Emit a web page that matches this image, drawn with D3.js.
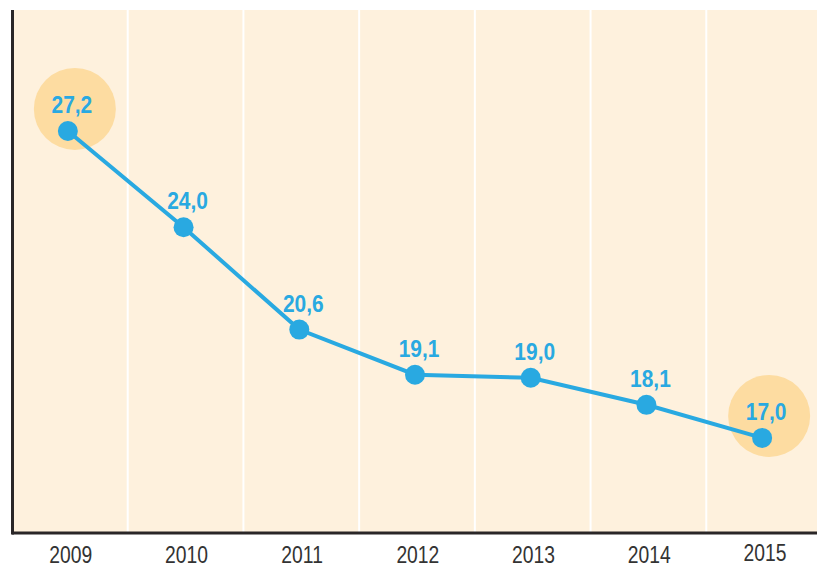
<!DOCTYPE html>
<html><head><meta charset="utf-8">
<script src="https://cdn.jsdelivr.net/npm/d3@7"></script>
<style>html,body{margin:0;padding:0;background:#fff;}svg{display:block;}</style>
</head><body>
<svg id="c" width="817" height="566"></svg>
<script>
const years = ["2009","2010","2011","2012","2013","2014","2015"];
const values = [27.2, 24.0, 20.6, 19.1, 19.0, 18.1, 17.0];
const labels = ["27,2","24,0","20,6","19,1","19,0","18,1","17,0"];
const highlighted = ["2009","2015"];

(function(){
const svg = d3.select("#c");
const pL = 12, pR = 822, pT = 10, pB = 533;
const x = d3.scaleBand().domain(years).range([pL, pR]).padding(0);
const y = d3.scaleLinear().domain([13.84, 31.22]).range([pB, pT]);
const cx = d => x(d) + x.bandwidth()/2 - 2;

svg.append("rect").attr("x", pL).attr("y", pT).attr("width", 817 - pL).attr("height", pB - pT).attr("fill", "#fef1dd");

svg.append("g").selectAll("line").data(years.slice(1)).join("line")
  .attr("x1", d => x(d)).attr("x2", d => x(d))
  .attr("y1", pT).attr("y2", pB)
  .attr("stroke", "#ffffff").attr("stroke-width", 2);

const data = years.map((yr, i) => ({yr, v: values[i], lab: labels[i]}));
svg.append("g").selectAll("circle").data(data.filter(d => highlighted.includes(d.yr))).join("circle")
  .attr("cx", d => cx(d.yr) + 7).attr("cy", d => y(d.v) - 22)
  .attr("r", 41).attr("fill", "#fddca1");

const xAxis = d3.axisBottom(x).tickSize(0).tickPadding(0);
const gx = svg.append("g").attr("transform", `translate(0,${pB})`).call(xAxis);
gx.select(".domain").remove();
gx.selectAll("text")
  .attr("y", 30).attr("dy", 0)
  .attr("x", 1)
  .attr("transform", "scale(0.84,1)")
  .attr("font-family", "'Liberation Sans', Arial, sans-serif")
  .attr("font-size", 23).attr("fill", "#333");
gx.selectAll(".tick").filter(d => d === "2015").select("text").attr("y", 28);

svg.append("line").attr("x1", pL).attr("x2", 817).attr("y1", pB).attr("y2", pB)
  .attr("stroke", "#2a2627").attr("stroke-width", 3);
svg.append("line").attr("x1", pL + 0.5).attr("x2", pL + 0.5).attr("y1", pT).attr("y2", pB + 1.5)
  .attr("stroke", "#2a2627").attr("stroke-width", 3);

const line = d3.line().x(d => cx(d.yr)).y(d => y(d.v));
svg.append("path").datum(data).attr("d", line)
  .attr("fill", "none").attr("stroke", "#29a9e1").attr("stroke-width", 4);

svg.append("g").selectAll("circle").data(data).join("circle")
  .attr("cx", d => cx(d.yr)).attr("cy", d => y(d.v)).attr("r", 10).attr("fill", "#29a9e1");

svg.append("g").selectAll("text").data(data).join("text")
  .attr("transform", d => `translate(${cx(d.yr) + 4},${y(d.v) - 18}) scale(0.91,1)`)
  .attr("text-anchor", "middle")
  .attr("font-family", "'Liberation Sans', Arial, sans-serif")
  .attr("font-weight", "bold").attr("font-size", 23).attr("fill", "#29a9e1")
  .text(d => d.lab);
})();
</script>
</body></html>
